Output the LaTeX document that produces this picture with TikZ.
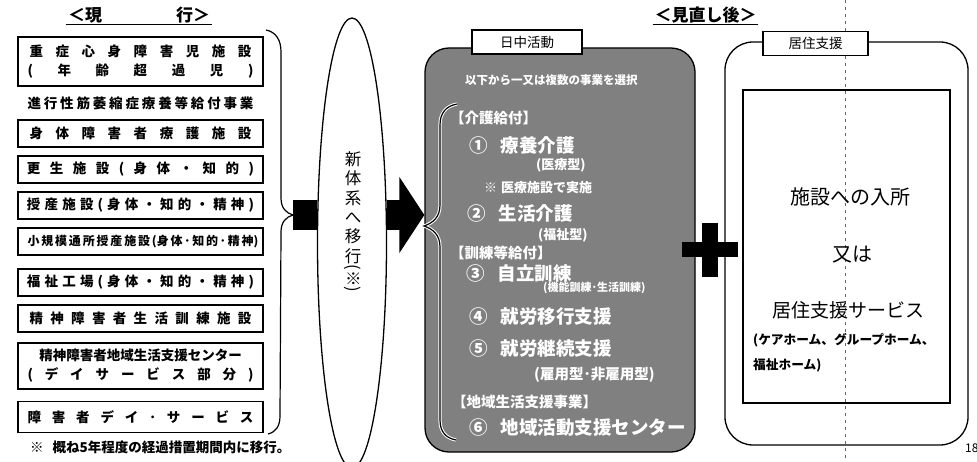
\documentclass[tikz,border=0pt]{standalone}
\usepackage{fontspec}
\setmainfont{Noto Sans CJK JP}
\usepackage{graphicx}
\usepackage{tikz}
\usetikzlibrary{shapes.geometric, arrows.meta}
\newcommand{\spreadtext}[2]{\makebox[#1][s]{#2}}
\tikzstyle{facility} = [rectangle, draw=black, line width=1.3pt, minimum width=245pt, minimum height=27pt, inner sep=1pt, align=center, font=\bfseries\fontsize{13.5}{19}\selectfont]
\tikzstyle{plaintext} = [inner sep=0pt, font=\bfseries\fontsize{13.5}{19}\selectfont]
\tikzstyle{heading} = [inner sep=1.5pt, font=\bfseries\fontsize{17}{20}\selectfont]
\tikzstyle{panel} = [rectangle, rounded corners=24pt, draw=black, line width=1.3pt]
\tikzstyle{tab} = [rectangle, draw=black, line width=1.2pt, fill=white, minimum height=24pt, font=\fontsize{13.5}{16}\selectfont]
\tikzstyle{service} = [anchor=west, inner sep=0pt, text=white, font=\bfseries\fontsize{18.5}{20}\selectfont]
\tikzstyle{note} = [anchor=west, inner sep=0pt, text=white, font=\bfseries\fontsize{13}{15}\selectfont]
\tikzstyle{group} = [anchor=west, inner sep=0pt, text=white, font=\bfseries\fontsize{14.5}{16}\selectfont]
\tikzstyle{bracketline} = [line width=1.2pt]
\tikzstyle{bigarrow} = [line width=30pt, -{Triangle[length=25pt, width=75pt]}]
\tikzstyle{foldline} = [dash pattern=on 3pt off 4pt, black!60, line width=0.5pt]

\begin{document}
\begin{tikzpicture}[x=1pt, y=1pt, node distance=36pt]
\path[use as bounding box, fill=white] (0,0) rectangle (977,-462);

% current system
\node (currentHead) [heading] at (139,-15) {\spreadtext{142pt}{＜現\hfill 行＞}};
\draw [line width=1.2pt] (currentHead.south west) -- (currentHead.south east);
\node (severe) [facility, minimum height=49pt] at (140.5,-61.5) {\spreadtext{222pt}{重 症 心 身 障 害 児 施 設}\\ \spreadtext{226pt}{( 年 齢 超 過 児 )}};
\node (progressive) [plaintext, below of=severe, yshift=-5.5pt] {\spreadtext{226pt}{進 行 性 筋 萎 縮 症 療 養 等 給 付 事 業}};
\node (nursing) [facility, below of=progressive, yshift=5.5pt] {\spreadtext{222pt}{身 体 障 害 者 療 護 施 設}};
\node (rehab) [facility, below of=nursing] {\spreadtext{227pt}{更 生 施 設 ( 身 体 ・ 知 的 )}};
\node (work) [facility, below of=rehab] {\spreadtext{227pt}{授 産 施 設 ( 身 体 ・ 知 的 ・ 精 神 )}};
\node (smallWork) [facility, below of=work, font=\bfseries\fontsize{12}{14}\selectfont] {\spreadtext{226pt}{小 規 模 通 所 授 産 施 設 (身 体 ･ 知 的 ･ 精 神)}};
\node (welfare) [facility, below of=smallWork, yshift=-5pt] {\spreadtext{227pt}{福 祉 工 場 ( 身 体 ・ 知 的 ・ 精 神 )}};
\node (mentalTrain) [facility, below of=welfare] {\spreadtext{222pt}{精 神 障 害 者 生 活 訓 練 施 設}};
\node (mentalCenter) [facility, below of=mentalTrain, yshift=-11.5pt, minimum height=46pt] {精神障害者地域生活支援センター\\ \spreadtext{226pt}{( デ イ サ ー ビ ス 部 分 )}};
\node (dayService) [facility, below of=mentalCenter, yshift=-15pt, minimum height=31pt] {\spreadtext{226pt}{障 害 者 デ イ ･ サ ー ビ ス}};
\node (footnote) [plaintext, anchor=west] at (30,-447) {※\hspace{9pt}概ね5年程度の経過措置期間内に移行。};

% brace and move to new system
\coordinate (braceTip) at (293,-215);
\draw [bracketline] (266,-30) .. controls (276,-32) and (281,-40) .. (281,-52) -- (281,-198) .. controls (281,-208) and (286,-213) .. (braceTip) .. controls (286,-217) and (281,-222) .. (281,-232) -- (280,-416) .. controls (280,-426) and (276,-432) .. (268,-434);
\node (migrate) [ellipse, draw=black, line width=1.3pt, minimum width=69pt, minimum height=450pt, inner sep=0pt] at (352,-243) {};
\draw [line width=30pt] (braceTip) -- (migrate.west |- braceTip);
\node (migrateText) [align=center, inner sep=0pt, font=\fontsize{16.5}{19.3}\selectfont] at (353,-222) {新\\体\\系\\へ\\移\\行\\\rotatebox[origin=c]{-90}{(※)}};

% after review
\node (reviewHead) [heading] at (705.5,-15) {＜見直し後＞};
\draw [line width=1.2pt] (reviewHead.south west) -- (reviewHead.south east);

% daytime activity
\node (dayPanel) [panel, fill=black!50, minimum width=270pt, minimum height=404pt] at (560,-250) {};
\coordinate (arrowLevel) at (0,-215);
\draw [bigarrow] (migrate.east |- arrowLevel) -- (dayPanel.west |- arrowLevel);
\node (dayTab) [tab, minimum width=110pt] at (527,-42) {日中活動};
\draw [white, line width=3.2pt] (457,-104) .. controls (446,-106) and (440,-113) .. (440,-125) -- (440,-205) .. controls (440,-217) and (433,-223) .. (424,-226) .. controls (433,-229) and (440,-235) .. (440,-247) -- (440,-420) .. controls (440,-432) and (446,-438) .. (456,-440);
\draw [bracketline] (457,-104) .. controls (446,-106) and (440,-113) .. (440,-125) -- (440,-205) .. controls (440,-217) and (433,-223) .. (424,-226) .. controls (433,-229) and (440,-235) .. (440,-247) -- (440,-420) .. controls (440,-432) and (446,-438) .. (456,-440);
\node (choice) [note, font=\bfseries\fontsize{11.5}{14}\selectfont] at (465,-80) {以下から一又は複数の事業を選択};
\node (careGroup) [group] at (450,-118) {【介護給付】};
\node (medCare) [service] at (469,-145) {①\hspace{13pt}療養介護};
\node (medType) [note] at (536,-165) {(医療型)};
\node (medNote) [note] at (484,-188) {※\hspace{4pt}医療施設で実施};
\node (lifeCare) [service] at (467,-213) {②\hspace{13pt}生活介護};
\node (lifeType) [note] at (538,-235) {(福祉型)};
\node (trainGroup) [group] at (450,-253) {【訓練等給付】};
\node (selfTrain) [service] at (466,-273) {③\hspace{13pt}自立訓練};
\node (trainType) [note, font=\bfseries\fontsize{11}{13}\selectfont] at (543,-288) {(機能訓練･生活訓練)};
\node (jobMove) [service] at (469,-317) {④\hspace{13pt}就労移行支援};
\node (jobKeep) [service] at (469,-348) {⑤\hspace{13pt}就労継続支援};
\node (jobType) [note, font=\bfseries\fontsize{14.5}{16}\selectfont] at (534,-375) {(雇用型･非雇用型)};
\node (localGroup) [group] at (452,-402) {【地域生活支援事業】};
\node (localCenter) [service] at (469,-428) {⑥\hspace{13pt}地域活動支援センター};

% residential support
\node (stayPanel) [panel, rounded corners=28pt, minimum width=243pt, minimum height=403pt] at (846.5,-243.5) {};
\draw [foldline] (845,0) -- (845,-462);
\node (stayTab) [tab, minimum width=105pt] at (815.5,-43.5) {居住支援};
\node (stayBox) [rectangle, draw=black, line width=1.3pt, minimum width=207pt, minimum height=313pt] at (846.5,-246.5) {};
\node (admission) [inner sep=0pt, font=\fontsize{20}{22}\selectfont] at (850,-197) {施設への入所};
\node (orText) [inner sep=0pt, font=\fontsize{20}{22}\selectfont] at (852,-255) {又は};
\node (homeSupport) [inner sep=0pt, font=\fontsize{19}{22}\selectfont] at (848,-310) {居住支援サービス};
\node (homeTypes) [anchor=west, align=left, inner sep=0pt, font=\bfseries\fontsize{12.7}{25}\selectfont] at (753,-352.5) {(ケアホーム、グループホーム、\\福祉ホーム)};

% plus
\fill [black] (682,-242) rectangle (738,-257);
\fill [black] (702,-223) rectangle (718,-277);

\node (pageNo) [anchor=west, inner sep=0pt, font=\fontsize{12}{14}\selectfont] at (965,-448) {18};
\end{tikzpicture}
\end{document}
